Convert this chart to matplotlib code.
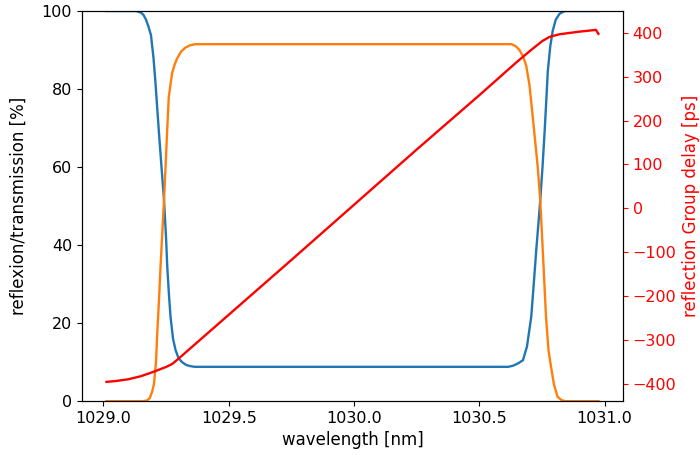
import matplotlib
matplotlib.use("Agg")
import numpy as np
import matplotlib.pyplot as plt
from matplotlib.ticker import MultipleLocator

# reflexion of the chirped grating [%]
wl_refl = [1029.0125, 1029.13, 1029.15, 1029.16, 1029.17, 1029.18, 1029.19, 1029.20,
           1029.208, 1029.215, 1029.222, 1029.232, 1029.242, 1029.25, 1029.255, 1029.262,
           1029.268, 1029.278, 1029.288, 1029.30, 1029.314, 1029.33, 1029.345, 1029.365,
           1030.0, 1030.615, 1030.635, 1030.655, 1030.674, 1030.69, 1030.707, 1030.717,
           1030.727, 1030.735, 1030.743, 1030.752, 1030.76, 1030.767, 1030.773, 1030.783,
           1030.793, 1030.805, 1030.82, 1030.84, 1030.975]
refl = [100, 100, 99.6, 99, 97.8, 96, 93.8, 88,
        81.5, 75, 68.6, 60, 51.5, 42, 34.4, 27,
        21.6, 16, 13.1, 11, 10, 9.3, 9.0, 8.8,
        8.8, 8.8, 9.1, 9.7, 10.5, 14, 21.6, 30,
        38.7, 45, 51.5, 60, 68.6, 77, 84.5, 91,
        95, 97.8, 99.3, 100, 100]

# transmission [%]
wl_trans = [1029.0125, 1029.16, 1029.175, 1029.185, 1029.195, 1029.202, 1029.21, 1029.215,
            1029.222, 1029.228, 1029.235, 1029.242, 1029.248, 1029.255, 1029.261, 1029.274,
            1029.284, 1029.294, 1029.31, 1029.327, 1029.345, 1029.367, 1030.0, 1030.628,
            1030.645, 1030.66, 1030.675, 1030.687, 1030.70, 1030.713, 1030.733, 1030.743,
            1030.753, 1030.766, 1030.776, 1030.786, 1030.797, 1030.812, 1030.83, 1030.845,
            1030.975]
trans = [0, 0, 0.2, 0.8, 2.5, 4.5, 10, 17.4,
         26, 34.4, 43, 51.5, 60, 70, 78, 84,
         86.2, 87.8, 89.6, 90.6, 91.2, 91.5, 91.5, 91.5,
         91, 90, 88.3, 86, 81, 72.9, 60, 51.5,
         38.7, 21.6, 13, 8.8, 4.5, 1.1, 0.2, 0,
         0]

# reflection group delay [ps]
wl_gd = [1029.0125, 1029.05, 1029.10, 1029.15, 1029.20, 1029.25, 1029.275, 1029.30,
         1029.35, 1029.40, 1029.50, 1029.75, 1030.0, 1030.25, 1030.5, 1030.65,
         1030.70, 1030.75, 1030.78, 1030.82, 1030.86, 1030.90, 1030.95, 1030.965,
         1030.975]
gd = [-396, -394, -390, -383, -373, -362, -355, -343,
      -318, -293, -243, -118, 8, 134, 258, 334,
      358, 381, 391, 397, 400, 403, 406, 407,
      398]

plt.rcParams['font.size'] = 12
plt.rcParams['xtick.labelsize'] = 11.5
plt.rcParams['ytick.labelsize'] = 11.5
plt.rcParams['lines.linewidth'] = 1.7

fig = plt.figure(figsize=(7, 4.59), dpi=100)
ax1 = fig.add_subplot(1, 1, 1)
fig.subplots_adjust(left=0.117, right=0.89, bottom=0.126, top=0.976)

ax1.plot(wl_refl, refl)
ax1.plot(wl_trans, trans)
ax1.set_ylim(0, 100)
ax1.xaxis.set_major_locator(MultipleLocator(0.5))
ax1.set_xlabel('wavelength [nm]')
ax1.set_ylabel('reflexion/transmission [%]', labelpad=10)

ax2 = ax1.twinx()
ax2.plot(wl_gd, gd, color='r')
ax2.set_ylim(-440, 450)
ax2.set_ylabel('reflection Group delay [ps]', color='r')
ax2.tick_params(axis='y', colors='r')
ax2.set_yticks(np.arange(-400, 401, 100))

fig.savefig('out.png', dpi=100)
